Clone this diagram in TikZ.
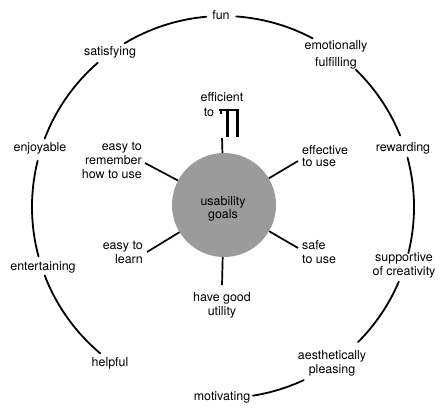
\documentclass[tikz,border=0pt]{standalone}
\usepackage{fontspec}
\setmainfont{TeX Gyre Heros}
\definecolor{goalgray}{RGB}{155,155,155}
\begin{document}
\begin{tikzpicture}[x=1bp,y=-1bp,
  lbl/.style={inner sep=0pt, font=\fontsize{12.5}{14}\selectfont, align=center},
  arcline/.style={line width=1.8bp, line cap=round},
  spoke/.style={line width=1.7bp},
  glyph/.style={line width=2.6bp}]
\useasboundingbox (0,0) rectangle (448,409);
\coordinate (O) at (223,207);
% outer circle arcs
\draw[arcline] ([shift={(O)}]-95:191) arc[start angle=-95, end angle=-121, radius=191];
\draw[arcline] ([shift={(O)}]-62:191) arc[start angle=-62, end angle=-86, radius=191];
\draw[arcline] ([shift={(O)}]-131:191) arc[start angle=-131, end angle=-159, radius=191];
\draw[arcline] ([shift={(O)}]-166:191) arc[start angle=-166, end angle=-195, radius=191];
\draw[arcline] ([shift={(O)}]-201:191) arc[start angle=-201, end angle=-230, radius=191];
\draw[arcline] ([shift={(O)}]-22:191) arc[start angle=-22, end angle=-46, radius=191];
\draw[arcline] ([shift={(O)}]-15:191) arc[start angle=-15, end angle=14, radius=191];
\draw[arcline] ([shift={(O)}]23:191) arc[start angle=23, end angle=45, radius=191];
\draw[arcline] ([shift={(O)}]65:191) arc[start angle=65, end angle=81, radius=191];
% outer labels
\node[lbl] (fun) at (221,15) {fun};
\node[lbl] (satisfying) at (110,52) {satisfying};
\node[lbl, font=\fontsize{12.5}{17}\selectfont] (emotional) at (336,54.5) {emotionally\\fulfilling};
\node[lbl] (enjoyable) at (40,148) {enjoyable};
\node[lbl] (rewarding) at (403,148) {rewarding};
\node[lbl] (entertaining) at (43,267) {entertaining};
\node[lbl] (supportive) at (404,265) {supportive\\of creativity};
\node[lbl] (helpful) at (110,363) {helpful};
\node[lbl] (aesthetic) at (332,363) {aesthetically\\pleasing};
\node[lbl] (motivating) at (222,397) {motivating};
% inner circle
\node[circle, fill=goalgray, minimum size=104bp, inner sep=0pt] (goal) at (224,205) {};
\node[lbl, font=\fontsize{12.5}{13}\selectfont] (goaltext) at (223,208.5) {usability\\goals};
% inner labels
\node[lbl] (efficient) at (222,97) {efficient};
\node[lbl] (to) at (209,112) {to};
\node[lbl, align=right, anchor=east] (remember) at (142,160) {easy to\\remember\\how to use};
\node[lbl, align=left, anchor=west, font=\fontsize{12.5}{12.5}\selectfont] (effective) at (302,156) {effective\\to use};
\node[lbl, align=right, anchor=east] (learn) at (143,252) {easy to\\learn};
\node[lbl, align=left, anchor=west] (safe) at (302,252) {safe\\to use};
\node[lbl] (utility) at (222,305.5) {have good\\utility};
% spoke ends
\coordinate (etop) at (222,138);
\coordinate (eul) at (145,163);
\coordinate (eur) at (298,161);
\coordinate (ell) at (147,252);
\coordinate (elr) at (298,248);
\coordinate (ebot) at (222,285);
\draw[spoke] (goal) -- (etop);
\draw[spoke] (goal) -- (eul);
\draw[spoke] (goal) -- (eur);
\draw[spoke] (goal) -- (ell);
\draw[spoke] (goal) -- (elr);
\draw[spoke] (goal) -- (ebot);
% glyph after "to"
\draw[glyph] (219.3,110) -- (239.3,110);
\draw[glyph] (227.3,110) -- (227.3,137.3);
\draw[glyph] (237.6,110) -- (237.6,137.3);
\draw[line width=2bp] (220.5,110) -- (220.5,113.5);
\end{tikzpicture}
\end{document}
